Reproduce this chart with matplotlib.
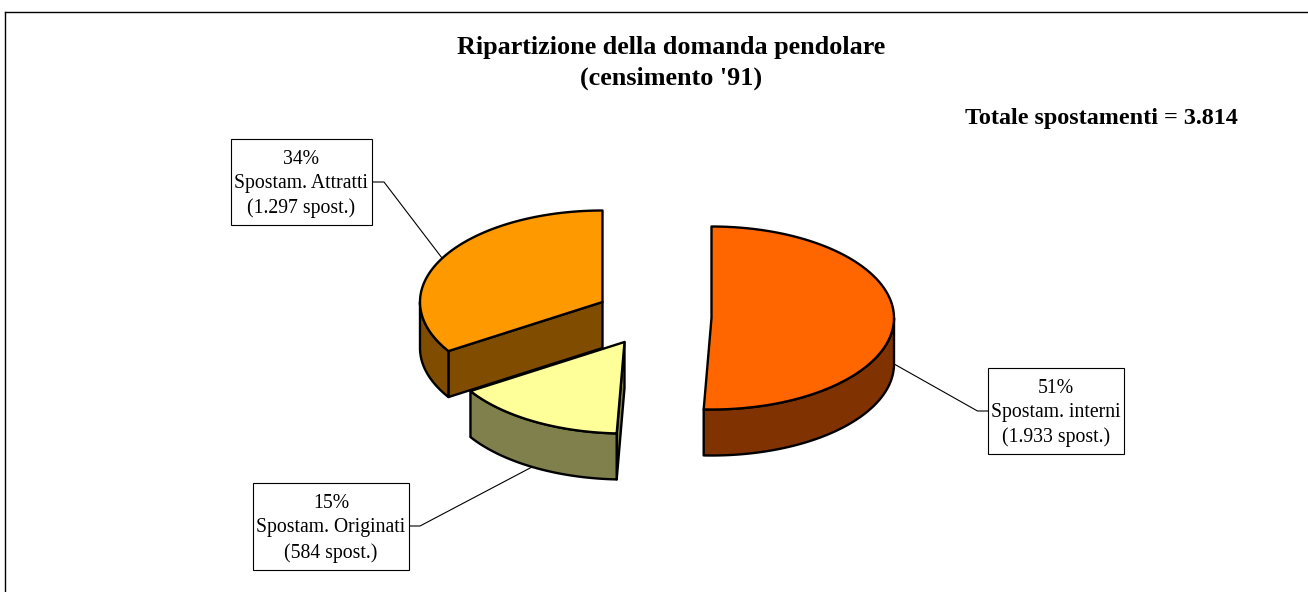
import numpy as np
import matplotlib
matplotlib.use("Agg")
import matplotlib.pyplot as plt
from matplotlib.patches import Polygon, Rectangle

plt.rcParams['font.family'] = ['Liberation Serif', 'DejaVu Serif']

# Data
categories = ["Spostam. interni", "Spostam. Originati", "Spostam. Attratti"]
values = [1933, 584, 1297]
percent_labels = ["51%", "15%", "34%"]
count_labels = ["(1.933 spost.)", "(584 spost.)", "(1.297 spost.)"]
title_lines = "Ripartizione della domanda pendolare\n(censimento '91)"
total_label = "Totale spostamenti = 3.814"

# Style / layout (pixels)
top_colors = ["#FF6600", "#FFFF99", "#FF9900"]
side_colors = ["#803300", "#80804D", "#804D00"]
centers = [(711.5, 318), (624.5, 342), (602.5, 302)]
RX, RY, DEPTH = 182.5, 91.5, 46
boxes = [(988, 368, 136, 86), (253, 483, 156, 87), (231, 139, 141, 86)]
leaders = [[(988, 411), (977.5, 411), (895, 364.5)],
           [(409, 526), (420, 526), (532, 467)],
           [(372, 182), (384, 182), (442, 258)]]

fig = plt.figure(figsize=(13.08, 5.92), dpi=100)
ax = fig.add_axes([0, 0, 1, 1])
ax.set_xlim(0, 1308)
ax.set_ylim(592, 0)
ax.axis('off')

ax.plot([5, 5], [592, 11.5], color='black', lw=1.0, zorder=1)
ax.plot([5, 1308], [11.5, 11.5], color='black', lw=1.0, zorder=1)


def rim(c, a0, a1, n=120):
    """clockwise angle from 12 o'clock, degrees"""
    t = np.radians(np.linspace(a0, a1, n))
    return np.column_stack([c[0] + RX * np.sin(t), c[1] - RY * np.cos(t)])


def draw_poly(pts, fc, z):
    ax.add_patch(Polygon(pts, closed=True, fc=fc, ec='black', lw=1.7,
                         joinstyle='round', zorder=z))


def wall(c, a0, a1, fc, z):
    top = rim(c, a0, a1)
    bot = top[::-1] + [0, DEPTH]
    draw_poly(np.vstack([top, bot]), fc, z)


def face(c, a, fc, z):
    p = rim(c, a, a, 1)[0]
    draw_poly([c, p, (p[0], p[1] + DEPTH), (c[0], c[1] + DEPTH)], fc, z)


total = sum(values)
edges = np.concatenate([[0], np.cumsum(values)]) / total * 360.0

# Leaders
for pts in leaders:
    xs, ys = zip(*pts)
    ax.plot(xs, ys, color='black', lw=0.8, zorder=2)

# Slice 3 (attratti): drawn first, it sits behind the yellow slice
i = 2
a0, a1 = edges[i], edges[i + 1]
face(centers[i], a0, side_colors[i], 3)
wall(centers[i], a0, 270, side_colors[i], 3)
draw_poly(np.vstack([[centers[i]], rim(centers[i], a0, a1)]), top_colors[i], 4)

# Slice 2 (originati)
i = 1
a0, a1 = edges[i], edges[i + 1]
face(centers[i], a0, side_colors[i], 5)
wall(centers[i], a0, a1, side_colors[i], 5)
draw_poly(np.vstack([[centers[i]], rim(centers[i], a0, a1)]), top_colors[i], 6)

# Slice 1 (interni)
i = 0
a0, a1 = edges[i], edges[i + 1]
wall(centers[i], 90, a1, side_colors[i], 7)
draw_poly(np.vstack([[centers[i]], rim(centers[i], a0, a1)]), top_colors[i], 8)

# Labels
for (x, y, w, h), cat, p, cnt in zip(boxes, categories, percent_labels, count_labels):
    ax.add_patch(Rectangle((x, y), w, h, fc='white', ec='black', lw=0.8, zorder=9))
    ax.text(x + w / 2, y + h / 2 + 2, f"{p}\n{cat}\n{cnt}", ha='center', va='center',
            fontsize=14.2, linespacing=1.37, color='black', zorder=10)

ax.text(671.5, 63, title_lines, ha='center', va='center', fontsize=18.8, fontweight='bold',
        linespacing=1.47, color='black')
ax.text(1238, 118.5, total_label, ha='right', va='center', fontsize=17.4, fontweight='bold',
        color='black')

fig.savefig("out.png", dpi=100, facecolor='white')
